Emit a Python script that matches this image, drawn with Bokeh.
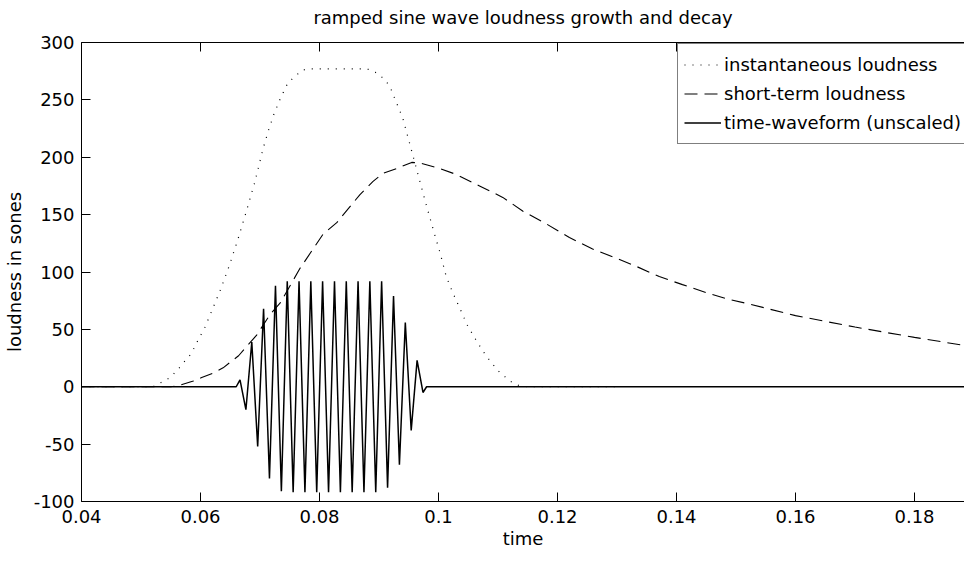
from bokeh.plotting import figure
from bokeh.models import Range1d, LinearAxis, FixedTicker, Legend, LegendItem, CustomLabelingPolicy
from bokeh.embed import file_html
from bokeh.resources import INLINE

# ---- data ----
x_ticks = [0.04, 0.06, 0.08, 0.10, 0.12, 0.14, 0.16, 0.18]
x_tick_labels = ["0.04", "0.06", "0.08", "0.1", "0.12", "0.14", "0.16", "0.18"]
y_ticks = [-100, -50, 0, 50, 100, 150, 200, 250, 300]
y_tick_labels = ["-100", "-50", "0", "50", "100", "150", "200", "250", "300"]

# instantaneous loudness (dotted)
inst_t = [0.040, 0.0520, 0.0535, 0.0549, 0.0562, 0.0573, 0.0584, 0.0591, 0.0598, 0.0606,
          0.0622, 0.0634, 0.0648, 0.0662, 0.0676, 0.0690, 0.0706, 0.0714, 0.0723, 0.0734,
          0.0747, 0.0758, 0.0771, 0.0784, 0.0880, 0.0894, 0.0907, 0.0918, 0.0929, 0.0940,
          0.0951, 0.0965, 0.0976, 0.0984, 0.0995, 0.1003, 0.1013, 0.1024, 0.1037, 0.1049,
          0.1065, 0.1080, 0.1100, 0.1120, 0.1135, 0.1150, 0.1300]
inst_v = [0, 0, 4, 8, 15, 22, 28.5, 35.5, 43, 50,
          70, 85, 105, 127, 151, 176, 209, 223, 237, 251,
          265, 270, 276, 277, 277, 274, 269, 262, 248, 234,
          213, 186, 165, 150, 130, 116, 96, 82, 67, 53,
          39, 27, 14, 5, 1, 0, 0]

# short-term loudness (dashed)
st_t = [0.040, 0.0550, 0.0563, 0.0588, 0.0602, 0.0624, 0.0638, 0.0664, 0.0678, 0.0694,
        0.0717, 0.0734, 0.0756, 0.0767, 0.0806, 0.0829, 0.0868, 0.0890, 0.0907, 0.0929,
        0.0955, 0.0969, 0.0997, 0.1030, 0.1069, 0.1108, 0.1142, 0.1181, 0.1220, 0.1259,
        0.1299, 0.1332, 0.1371, 0.1410, 0.1450, 0.1489, 0.1523, 0.1600, 0.1700, 0.1800,
        0.1884]
st_v = [0, 0, 1, 5, 8, 12.5, 16.5, 27, 35.5, 44.7,
        63, 73, 93, 103, 133, 143, 167.5, 179, 186, 190,
        195.5, 195, 191, 185, 175, 165, 153, 142, 130, 120,
        112, 105, 96, 89, 82, 76, 72, 62, 52, 43,
        36]

# time waveform (unscaled): successive extrema of the ramped sine
wave_t = [0.040, 0.0660,
          0.06664, 0.06763, 0.06862, 0.06961, 0.07060, 0.07159, 0.07260, 0.07359,
          0.07458, 0.07557, 0.07656, 0.07755, 0.07854, 0.07953, 0.08052, 0.08152,
          0.08252, 0.08351, 0.08450, 0.08549, 0.08648, 0.08747, 0.08846, 0.08945,
          0.09044, 0.09144, 0.09244, 0.09343, 0.09442, 0.09541, 0.09640, 0.09739,
          0.0980, 0.1900]
wave_v = [0, 0,
          6, -20, 39, -52, 68, -80, 88, -91,
          92, -92, 92, -92, 92, -92, 92, -92,
          92, -92, 92, -92, 92, -92, 92, -92,
          92, -88, 79, -68, 56, -38, 23, -5,
          0, 0]

FONT = "DejaVu Sans"
FS = "18px"

p = figure(width=964, height=556, output_backend="svg", toolbar_location=None,
           x_range=Range1d(0.04, 0.1884), y_range=Range1d(-100, 300),
           min_border_left=80, min_border_right=0, min_border_top=34, min_border_bottom=55,
           title="ramped sine wave loudness growth and decay",
           x_axis_label="time", y_axis_label="loudness in sones")
p.outline_line_color = None
p.background_fill_color = "white"
p.border_fill_color = "white"
p.xgrid.visible = False
p.ygrid.visible = False

p.title.align = "center"
p.title.text_font = FONT
p.title.text_font_size = FS
p.title.text_font_style = "normal"
p.title.text_color = "black"
p.title.standoff = 8

xa = p.xaxis[0]
ya = p.yaxis[0]
xa.ticker = FixedTicker(ticks=x_ticks)
xa.major_label_overrides = {t: l for t, l in zip(x_ticks, x_tick_labels)}
ya.ticker = FixedTicker(ticks=y_ticks)
ya.major_label_overrides = {t: l for t, l in zip(y_ticks, y_tick_labels)}
for ax in (xa, ya):
    ax.major_tick_in = 9
    ax.major_tick_out = 0
    ax.minor_tick_in = 0
    ax.minor_tick_out = 0
    ax.axis_line_color = "black"
    ax.major_tick_line_color = "black"
    ax.major_label_text_font = FONT
    ax.major_label_text_font_size = FS
    ax.major_label_text_color = "black"
    ax.axis_label_text_font = FONT
    ax.axis_label_text_font_size = FS
    ax.axis_label_text_font_style = "normal"
    ax.axis_label_text_color = "black"
xa.major_label_standoff = 8
xa.axis_label_standoff = 2
ya.major_label_standoff = 7
ya.axis_label_standoff = 6

# top border with inward ticks, no labels
top = LinearAxis(ticker=FixedTicker(ticks=x_ticks), major_tick_in=9, major_tick_out=0,
                 minor_tick_in=0, minor_tick_out=0, major_label_standoff=0,
                 major_label_policy=CustomLabelingPolicy(code="return []"),
                 axis_line_color="black", major_tick_line_color="black")
p.add_layout(top, "above")

r_inst = p.line(inst_t, inst_v, line_color="black", line_width=1.2, line_dash="1 7")
r_st = p.line(st_t, st_v, line_color="black", line_width=1.1, line_dash="13 7")
r_wave = p.line(wave_t, wave_v, line_color="black", line_width=1.5)

legend = Legend(items=[
    LegendItem(label="instantaneous loudness", renderers=[r_inst]),
    LegendItem(label="short-term loudness", renderers=[r_st]),
    LegendItem(label="time-waveform (unscaled)", renderers=[r_wave]),
], location=(596, 357))
legend.label_text_font = FONT
legend.label_text_font_size = FS
legend.label_text_color = "black"
legend.border_line_color = "black"
legend.border_line_width = 1
legend.background_fill_color = "white"
legend.background_fill_alpha = 1
legend.padding = 6
legend.margin = 0
legend.spacing = 0
legend.glyph_width = 37
legend.glyph_height = 29
legend.label_height = 29
legend.label_standoff = 3
legend.label_width = 234
p.add_layout(legend, "center")

open("out.html", "w").write(file_html(p, INLINE))
